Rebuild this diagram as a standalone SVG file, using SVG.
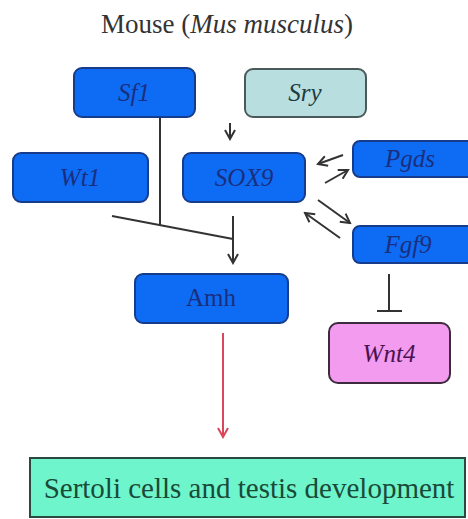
<svg xmlns="http://www.w3.org/2000/svg" width="468" height="519" viewBox="0 0 468 519">
<style>
text{font-family:"Liberation Serif","DejaVu Serif","Noto Serif","Times New Roman",serif}
.blue{fill:#0d6cf3;stroke:#173c8c;stroke-width:2}
.lbl{font-size:25px;text-anchor:middle}
.it{font-style:italic}
.bt{fill:#1b2e7e}
.edge{stroke:#333;stroke-width:2;fill:none}
</style>
<defs>
<marker id="ah" markerWidth="12" markerHeight="12" refX="10" refY="6" orient="auto" markerUnits="userSpaceOnUse">
<path d="M1,1 L10,6 L1,11" fill="none" stroke="#333" stroke-width="2"/>
</marker>
<marker id="ahr" markerWidth="12" markerHeight="12" refX="10" refY="6" orient="auto" markerUnits="userSpaceOnUse">
<path d="M1,1 L10,6 L1,11" fill="none" stroke="#d9475a" stroke-width="2"/>
</marker>
</defs>
<rect width="468" height="519" fill="#fff"/>
<text x="227" y="33" font-size="27" fill="#333" text-anchor="middle">Mouse (<tspan font-style="italic">Mus musculus</tspan>)</text>

<g id="connectors">
<line class="edge" x1="230" y1="123" x2="230" y2="139" marker-end="url(#ah)"/>
<line class="edge" x1="160" y1="117" x2="160" y2="226"/>
<line class="edge" x1="112" y1="216" x2="233" y2="239"/>
<line class="edge" x1="233" y1="216" x2="233" y2="263" marker-end="url(#ah)"/>
<line class="edge" x1="343" y1="155" x2="318" y2="164" marker-end="url(#ah)"/>
<line class="edge" x1="325" y1="183" x2="348" y2="170" marker-end="url(#ah)"/>
<line class="edge" x1="318" y1="200" x2="350" y2="223" marker-end="url(#ah)"/>
<line class="edge" x1="340" y1="238" x2="305" y2="213" marker-end="url(#ah)"/>
<line class="edge" x1="389" y1="274" x2="389" y2="311"/>
<line class="edge" x1="377" y1="311" x2="402" y2="311"/>
<line x1="223" y1="333" x2="223" y2="437" stroke="#d9475a" stroke-width="2" marker-end="url(#ahr)"/>
</g>

<g id="sf1"><rect class="blue" x="74" y="68" width="121" height="49" rx="8"/><text class="lbl it bt" x="134" y="101">Sf1</text></g>
<g id="sry"><rect x="245" y="69" width="121" height="48" rx="8" fill="#b9dee0" stroke="#4a5a5a" stroke-width="2"/><text class="lbl it" fill="#1c3c42" x="305" y="101">Sry</text></g>
<g id="wt1"><rect class="blue" x="13" y="153" width="135" height="49" rx="8"/><text class="lbl it bt" x="80" y="186">Wt1</text></g>
<g id="sox9"><rect class="blue" x="183" y="153" width="122" height="49" rx="8"/><text class="lbl it bt" x="244" y="186">SOX9</text></g>
<g id="pgds"><rect class="blue" x="353" y="141" width="130" height="36" rx="7"/><text class="lbl it bt" x="410" y="167">Pgds</text></g>
<g id="fgf9"><rect class="blue" x="353" y="226" width="130" height="37" rx="7"/><text class="lbl it bt" x="408" y="253">Fgf9</text></g>
<g id="amh"><rect class="blue" x="135" y="274" width="153" height="49" rx="8"/><text class="lbl bt" x="211" y="306">Amh</text></g>
<g id="wnt4"><rect x="329" y="323" width="121" height="60" rx="9" fill="#f29bef" stroke="#3d2a3d" stroke-width="2"/><text class="lbl it" fill="#4a1250" x="389" y="362">Wnt4</text></g>
<g id="sertoli"><rect x="30" y="458" width="435" height="59" fill="#6ff5cb" stroke="#2a4a40" stroke-width="2"/><text x="249" y="498" font-size="29" fill="#1a4a38" text-anchor="middle">Sertoli cells and testis development</text></g>
</svg>
